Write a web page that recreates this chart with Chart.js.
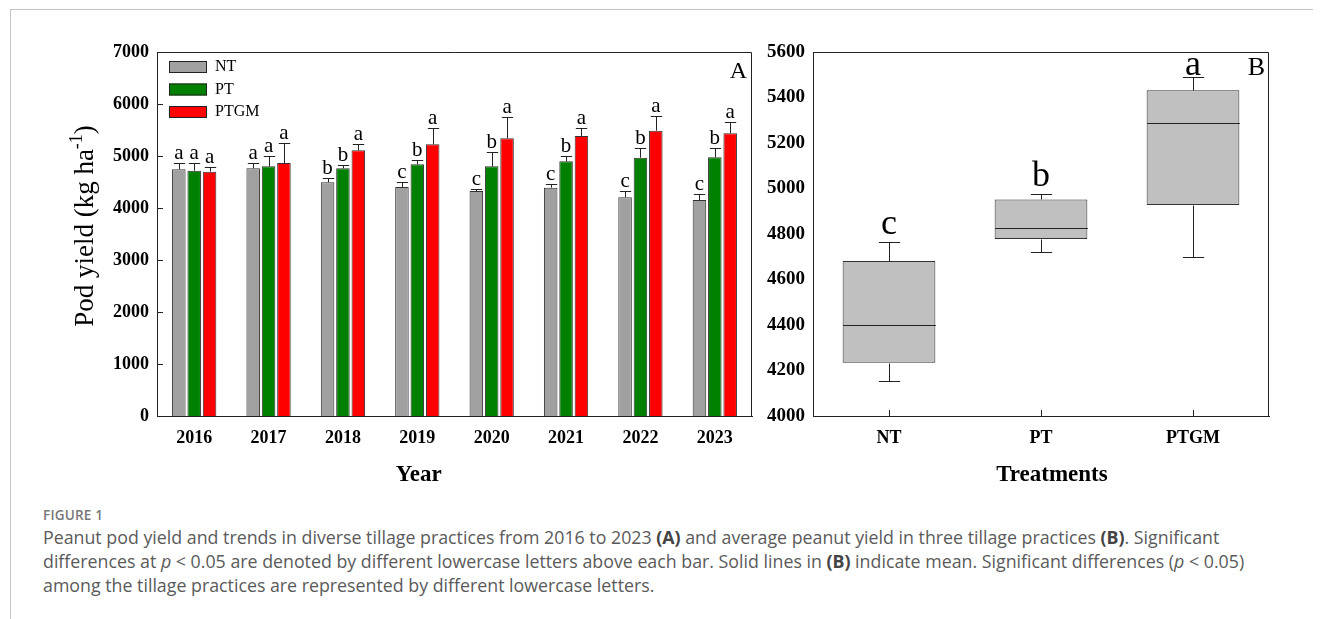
<!DOCTYPE html>
<html>
<head>
<meta charset="utf-8">
<script src="https://cdn.jsdelivr.net/npm/chart.js@4.4.1/dist/chart.umd.min.js"></script>
<style>
  body { margin: 0; background: #fff; width: 1322px; height: 619px; overflow: hidden; position: relative; font-family: "Open Sans", sans-serif; }
  .marco { position: absolute; left: 10px; top: 9px; width: 1302px; height: 620px; border-left: 1px solid #c4c4c4; border-top: 1px solid #c4c4c4; }
  #graficaA { position: absolute; left: 0; top: 0; }
  #graficaB { position: absolute; left: 740px; top: 0; }
  .pie { position: absolute; left: 43px; top: 506px; color: #5a5a5a; }
  .pie .fig { font-size: 13.5px; font-weight: 600; color: #777; letter-spacing: 0.2px; }
  .pie .txt { font-size: 17.8px; line-height: 23.8px; white-space: nowrap; margin-top: 2px; }
  .pie b { font-weight: 700; color: #444; }
</style>
</head>
<body>
<div class="marco"></div>
<canvas id="graficaA" width="760" height="500"></canvas>
<canvas id="graficaB" width="582" height="500"></canvas>
<div class="pie">
  <div class="fig">FIGURE 1</div>
  <div class="txt">Peanut pod yield and trends in diverse tillage practices from 2016 to 2023 <b>(A)</b> and average peanut yield in three tillage practices <b>(B)</b>. Significant<br>differences at <i>p</i> &lt; 0.05 are denoted by different lowercase letters above each bar. Solid lines in <b>(B)</b> indicate mean. Significant differences (<i>p</i> &lt; 0.05)<br>among the tillage practices are represented by different lowercase letters.</div>
</div>
<script>
// rendimiento anual por tratamiento (kg/ha) y error (solo hacia arriba)
const anios = ["2016", "2017", "2018", "2019", "2020", "2021", "2022", "2023"];
const rendNT = [4744, 4763, 4494, 4404, 4327, 4391, 4205, 4154];
const rendPT = [4718, 4801, 4763, 4840, 4801, 4897, 4968, 4974];
const rendPTGM = [4699, 4865, 5109, 5224, 5340, 5385, 5487, 5436];
const errNT = [115, 96, 89, 102, 45, 64, 122, 122];
const errPT = [154, 205, 58, 89, 282, 103, 192, 186];
const errPTGM = [89, 379, 128, 314, 404, 147, 289, 211];
const letrasNT = ["a", "a", "b", "c", "c", "c", "c", "c"];
const letrasPT = ["a", "a", "b", "b", "b", "b", "b", "b"];
const letrasPTGM = ["a", "a", "a", "a", "a", "a", "a", "a"];

// resumen de cajas por tratamiento
const tratamientos = ["NT", "PT", "PTGM"];
const cajaMin = [4155, 4722, 4700];
const cajaQ1 = [4234, 4778, 4927];
const cajaMed = [4400, 4825, 5287];
const cajaQ3 = [4681, 4952, 5432];
const cajaMax = [4766, 4977, 5489];
const letrasCaja = ["c", "b", "a"];

const serif = "'Liberation Serif', 'Times New Roman', serif";
const fuente = (size, weight) => `${weight || "normal"} ${size}px ${serif}`;

function marcoYTicks(chart, ejeY, ejeX) {
  const ctx = chart.ctx, a = chart.chartArea;
  ctx.strokeStyle = "#222";
  ctx.lineWidth = 1;
  ctx.beginPath();
  ctx.moveTo(a.left, a.top + 0.5);
  ctx.lineTo(a.right - 0.5, a.top + 0.5);
  ctx.lineTo(a.right - 0.5, a.bottom);
  ctx.stroke();
  if (ejeY) {
    ejeY.ticks.forEach(t => {
      const py = Math.round(ejeY.getPixelForValue(t.value)) + 0.5;
      ctx.beginPath(); ctx.moveTo(a.left, py); ctx.lineTo(a.left + 6, py); ctx.stroke();
    });
  }
  if (ejeX) {
    ejeX.ticks.forEach((t, i) => {
      const px = Math.round(ejeX.getPixelForTick(i)) + 0.5;
      ctx.beginPath(); ctx.moveTo(px, a.bottom); ctx.lineTo(px, a.bottom - 6); ctx.stroke();
    });
  }
}

// titulo del eje x, algo desplazado respecto al centro del area
function tituloX(chart, texto, fraccion) {
  const ctx = chart.ctx, a = chart.chartArea;
  ctx.fillStyle = "#000";
  ctx.textAlign = "center";
  ctx.textBaseline = "middle";
  ctx.font = fuente(23, "bold");
  ctx.fillText(texto, a.left + (a.right - a.left) * fraccion, a.bottom + 59);
}

const extrasA = {
  id: "extrasA",
  afterDatasetsDraw(chart) {
    const ctx = chart.ctx, y = chart.scales.y, a = chart.chartArea;
    ctx.save();
    marcoYTicks(chart, y, null);

    // barras de error y letras
    ctx.fillStyle = "#000";
    ctx.textAlign = "center";
    ctx.textBaseline = "alphabetic";
    ctx.font = fuente(21);
    chart.data.datasets.forEach((ds, i) => {
      chart.getDatasetMeta(i).data.forEach((bar, j) => {
        const tope = Math.round(y.getPixelForValue(ds.data[j] + ds.err[j])) + 0.5;
        const cx = Math.round(bar.x) + 0.5;
        const m = bar.width * 0.42;
        ctx.strokeStyle = "#222";
        ctx.beginPath();
        ctx.moveTo(cx, bar.y); ctx.lineTo(cx, tope);
        ctx.moveTo(cx - m, tope); ctx.lineTo(cx + m, tope);
        ctx.stroke();
        ctx.fillText(ds.letras[j], bar.x, tope - 5);
      });
    });

    // leyenda
    ctx.textAlign = "left";
    ctx.textBaseline = "middle";
    ctx.font = fuente(16);
    chart.data.datasets.forEach((ds, i) => {
      const top = a.top + 9 + i * 22.5;
      ctx.fillStyle = ds.backgroundColor;
      ctx.fillRect(a.left + 12, top, 38, 12);
      ctx.strokeStyle = "#222";
      ctx.strokeRect(a.left + 12.5, top + 0.5, 37, 11);
      ctx.fillStyle = "#000";
      ctx.fillText(ds.label, a.left + 58, top + 6);
    });

    // letra del panel
    ctx.textAlign = "right";
    ctx.textBaseline = "alphabetic";
    ctx.font = fuente(24);
    ctx.fillText("A", a.right - 5, a.top + 26);

    tituloX(chart, "Year", 0.44);

    // titulo del eje y con superindice
    const cy = (a.top + a.bottom) / 2 - 8;
    const t1 = "Pod yield (kg ha", t2 = "-1", t3 = ")";
    ctx.textAlign = "left";
    ctx.textBaseline = "alphabetic";
    ctx.font = fuente(27);
    const w1 = ctx.measureText(t1).width, w3 = ctx.measureText(t3).width;
    ctx.font = fuente(18);
    const w2 = ctx.measureText(t2).width;
    const total = w1 + w2 + w3;
    ctx.translate(93, cy);
    ctx.rotate(-Math.PI / 2);
    ctx.font = fuente(27);
    ctx.fillText(t1, -total / 2, 0);
    ctx.fillText(t3, -total / 2 + w1 + w2, 0);
    ctx.font = fuente(18);
    ctx.fillText(t2, -total / 2 + w1, -11);
    ctx.restore();
  }
};

const extrasB = {
  id: "extrasB",
  afterDatasetsDraw(chart) {
    const ctx = chart.ctx, y = chart.scales.y, x = chart.scales.x, a = chart.chartArea;
    ctx.save();
    marcoYTicks(chart, null, x);
    ctx.strokeStyle = "#222";
    ctx.fillStyle = "#000";
    ctx.textAlign = "center";
    ctx.textBaseline = "alphabetic";
    ctx.font = fuente(36);
    chart.getDatasetMeta(0).data.forEach((caja, i) => {
      const cx = Math.round(caja.x) + 0.5;
      const px = v => Math.round(y.getPixelForValue(v)) + 0.5;
      const media = caja.width / 2;
      const cap = caja.width * 0.115;
      ctx.beginPath();
      // mediana
      ctx.moveTo(cx - media, px(cajaMed[i])); ctx.lineTo(cx + media, px(cajaMed[i]));
      // bigotes
      ctx.moveTo(cx, px(cajaQ3[i])); ctx.lineTo(cx, px(cajaMax[i]));
      ctx.moveTo(cx - cap, px(cajaMax[i])); ctx.lineTo(cx + cap, px(cajaMax[i]));
      ctx.moveTo(cx, px(cajaQ1[i])); ctx.lineTo(cx, px(cajaMin[i]));
      ctx.moveTo(cx - cap, px(cajaMin[i])); ctx.lineTo(cx + cap, px(cajaMin[i]));
      ctx.stroke();
      const base = Math.max(px(cajaMax[i]) - 9, a.top + 23);
      ctx.fillText(letrasCaja[i], caja.x, base);
    });
    ctx.textAlign = "right";
    ctx.font = fuente(26);
    ctx.fillText("B", a.right - 4, a.top + 23);
    tituloX(chart, "Treatments", 0.524);
    ctx.restore();
  }
};

const ticksFuente = size => ({ family: serif, size: size, weight: "bold" });
const sinComas = v => String(v);

new Chart(document.getElementById("graficaA"), {
  type: "bar",
  data: {
    labels: anios,
    datasets: [
      { label: "NT", data: rendNT, err: errNT, letras: letrasNT, backgroundColor: "#a0a0a0" },
      { label: "PT", data: rendPT, err: errPT, letras: letrasPT, backgroundColor: "#008000" },
      { label: "PTGM", data: rendPTGM, err: errPTGM, letras: letrasPTGM, backgroundColor: "#ff0000" }
    ]
  },
  options: {
    responsive: false,
    animation: false,
    layout: { padding: { top: 52, right: 8, left: 0, bottom: 0 } },
    datasets: { bar: { categoryPercentage: 0.62, barPercentage: 0.88, borderColor: "#333", borderWidth: 1 } },
    plugins: { legend: { display: false }, tooltip: { enabled: false } },
    scales: {
      x: {
        grid: { display: false, drawTicks: false },
        border: { color: "#222", width: 1 },
        ticks: { font: ticksFuente(18), color: "#000", padding: 12 },
        afterFit: s => { s.height = 84; }
      },
      y: {
        min: 0, max: 7000,
        grid: { display: false, drawTicks: false },
        border: { color: "#222", width: 1 },
        ticks: { stepSize: 1000, font: ticksFuente(18), color: "#000", padding: 8, callback: sinComas },
        afterFit: s => { s.width = 157; }
      }
    }
  },
  plugins: [extrasA]
});

new Chart(document.getElementById("graficaB"), {
  type: "bar",
  data: {
    labels: tratamientos,
    datasets: [{
      data: cajaQ1.map((q, i) => [q, cajaQ3[i]]),
      backgroundColor: "#c0c0c0",
      borderColor: "#333",
      borderWidth: 1,
      borderSkipped: false,
      categoryPercentage: 0.61,
      barPercentage: 1
    }]
  },
  options: {
    responsive: false,
    animation: false,
    layout: { padding: { top: 52, right: 53, left: 0, bottom: 0 } },
    plugins: { legend: { display: false }, tooltip: { enabled: false } },
    scales: {
      x: {
        grid: { display: false, drawTicks: false },
        border: { color: "#222", width: 1 },
        ticks: { font: ticksFuente(18), color: "#000", padding: 12 },
        afterFit: s => { s.height = 84; }
      },
      y: {
        min: 4000, max: 5600,
        grid: { display: false, drawTicks: false },
        border: { color: "#222", width: 1 },
        ticks: { stepSize: 200, font: ticksFuente(19), color: "#000", padding: 8, callback: sinComas },
        afterFit: s => { s.width = 73; }
      }
    }
  },
  plugins: [extrasB]
});
</script>
</body>
</html>
